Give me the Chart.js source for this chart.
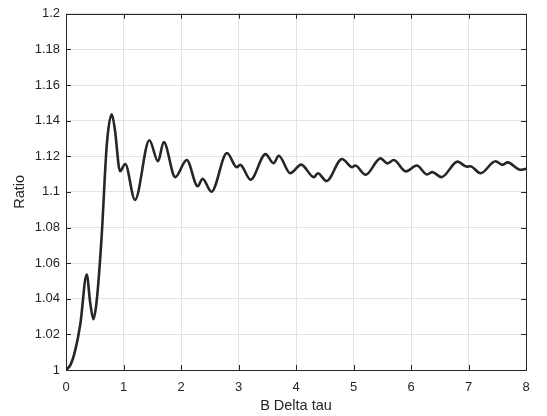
<!DOCTYPE html>
<html>
<head>
<meta charset="utf-8">
<script src="https://cdn.jsdelivr.net/npm/chart.js@4"></script>
<style>
  html, body { margin: 0; padding: 0; background: #fff; }
  #wrap { width: 547px; height: 416px; }
</style>
</head>
<body>
<div id="wrap"><canvas id="ratioChart"></canvas></div>
<script>
// values
var deltaTau = [
  0, 0.08, 0.16, 0.25, 0.36, 0.42, 0.476, 0.52, 0.56, 0.62, 0.71, 0.796, 0.85,
  0.94, 1.03, 1.2, 1.45, 1.6, 1.7, 1.9, 2.1, 2.29, 2.375, 2.53, 2.8, 2.97, 3.03,
  3.21, 3.47, 3.61, 3.7, 3.9, 4.09, 4.31, 4.38, 4.53, 4.8, 4.98, 5.03, 5.21,
  5.47, 5.59, 5.7, 5.91, 6.1, 6.28, 6.37, 6.53, 6.81, 6.97, 7.03, 7.21, 7.47,
  7.59, 7.68, 7.9, 8
];
var ratio = [
  1, 1.003, 1.011, 1.026, 1.0536, 1.038, 1.0285, 1.035, 1.048, 1.075, 1.1267, 1.1436, 1.135,
  1.1116, 1.1157, 1.0955, 1.129, 1.1172, 1.128, 1.1083, 1.1179, 1.1032, 1.1074, 1.1001, 1.1218, 1.1139, 1.1152,
  1.1069, 1.1212, 1.1161, 1.1203, 1.1105, 1.1153, 1.1083, 1.1105, 1.1061, 1.1185, 1.1139, 1.1148, 1.1096,
  1.1188, 1.116, 1.1179, 1.1115, 1.1148, 1.1098, 1.1111, 1.1083, 1.117, 1.1142, 1.1144, 1.1105, 1.1172,
  1.1152, 1.1166, 1.1124, 1.113
];
var xTicks = [0, 1, 2, 3, 4, 5, 6, 7, 8];
var yTicks = [1, 1.02, 1.04, 1.06, 1.08, 1.1, 1.12, 1.14, 1.16, 1.18, 1.2];

var points = deltaTau.map(function (x, i) { return { x: x, y: ratio[i] }; });
var axisColor = '#262626';
var gridColor = '#e3e3e3';
var fontFamily = 'Liberation Sans, Arial, sans-serif';

// matlab style box with inward ticks
var boxPlugin = {
  id: 'boxPlugin',
  afterDraw: function (chart) {
    var ctx = chart.ctx, a = chart.chartArea;
    var xs = chart.scales.x, ys = chart.scales.y;
    var len = 5;
    ctx.save();
    ctx.strokeStyle = axisColor;
    ctx.lineWidth = 1;
    ctx.beginPath();
    xTicks.forEach(function (v) {
      var px = Math.round(xs.getPixelForValue(v)) + 0.5;
      ctx.moveTo(px, a.bottom); ctx.lineTo(px, a.bottom - len);
      ctx.moveTo(px, a.top); ctx.lineTo(px, a.top + len);
    });
    yTicks.forEach(function (v) {
      var py = Math.round(ys.getPixelForValue(v)) + 0.5;
      ctx.moveTo(a.left, py); ctx.lineTo(a.left + len, py);
      ctx.moveTo(a.right, py); ctx.lineTo(a.right - len, py);
    });
    ctx.stroke();
    ctx.strokeRect(Math.round(a.left) + 0.5, Math.round(a.top) + 0.5,
                   Math.round(a.right - a.left), Math.round(a.bottom - a.top));
    ctx.restore();
  }
};

var chart = new Chart(document.getElementById('ratioChart'), {
  type: 'line',
  data: {
    datasets: [{
      data: points,
      borderColor: axisColor,
      borderWidth: 2.6,
      pointRadius: 0,
      cubicInterpolationMode: 'monotone',
      fill: false
    }]
  },
  options: {
    animation: false,
    responsive: true,
    maintainAspectRatio: false,
    layout: { padding: { left: 0, right: 21, top: 7, bottom: 0 } },
    plugins: { legend: { display: false }, tooltip: { enabled: false } },
    scales: {
      x: {
        type: 'linear',
        min: 0, max: 8,
        afterBuildTicks: function (s) { s.ticks = xTicks.map(function (v) { return { value: v }; }); },
        afterFit: function (s) { s.height = 46; },
        grid: { color: gridColor, drawTicks: false },
        border: { display: false },
        ticks: {
          color: axisColor, padding: 10, maxRotation: 0, autoSkip: false,
          font: { family: fontFamily, size: 13 }
        },
        title: {
          display: true, text: 'B Delta tau', color: axisColor,
          padding: { top: 0, bottom: 1 },
          font: { family: fontFamily, size: 14.5 }
        }
      },
      y: {
        type: 'linear',
        min: 1, max: 1.2,
        afterBuildTicks: function (s) { s.ticks = yTicks.map(function (v) { return { value: v }; }); },
        afterFit: function (s) { s.width = 66; },
        grid: { color: gridColor, drawTicks: false },
        border: { display: false },
        ticks: {
          color: axisColor, padding: 6, autoSkip: false,
          callback: function (v) { return String(parseFloat(v.toFixed(2))); },
          font: { family: fontFamily, size: 13 }
        },
        title: {
          display: true, text: 'Ratio', color: axisColor,
          padding: { top: 11, bottom: 0 },
          font: { family: fontFamily, size: 14.5 }
        }
      }
    }
  },
  plugins: [boxPlugin]
});
</script>
</body>
</html>
